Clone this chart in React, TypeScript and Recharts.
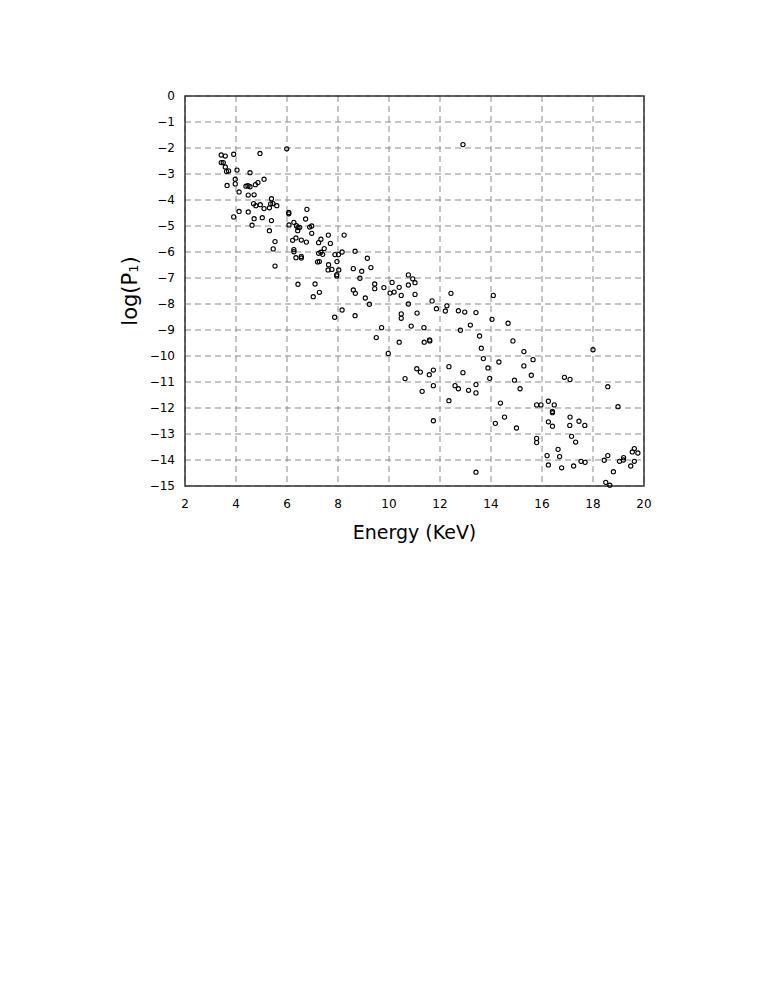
import { CartesianGrid, ReferenceArea, Scatter, ScatterChart, XAxis, YAxis, Label } from "recharts";

// energy in keV
const ENERGY = [
  3.42, 3.58, 3.91, 4.94, 5.99, 3.42, 3.5, 3.58, 3.63, 3.71, 4.04, 4.55, 5.1, 3.97, 3.97, 3.65, 4.86, 4.76,
  4.39, 4.47, 4.55, 4.12, 4.48, 4.71, 5.39, 4.69, 4.78, 4.95, 5.1, 5.31, 5.36, 5.45, 5.6, 6.07, 6.07, 6.78,
  6.73, 4.12, 3.91, 4.48, 4.71, 5.03, 5.39, 4.63, 5.31, 6.08, 6.27, 6.37, 6.43, 6.5, 6.42, 6.89, 6.97, 6.97,
  5.53, 5.46, 5.53, 6.22, 6.35, 6.56, 6.76, 6.27, 6.27, 6.35, 6.56, 6.56, 7.24, 7.24, 7.2,
  7.33, 7.62, 8.24, 7.7, 7.46, 7.33, 7.4, 7.27, 7.63, 7.61, 7.76, 7.88, 8.02, 8.16, 7.96, 8.03, 7.95, 7.95,
  8.67, 8.6, 8.6, 8.68, 8.86, 6.43, 7.1, 7.03, 7.27, 8.16, 7.87, 8.67,
  8.93, 9.15, 9.29, 9.07, 9.23, 9.44, 9.44, 9.8, 10.12, 10.2, 10.04, 10.4, 10.48, 10.76, 10.93, 11.02, 10.76,
  11.02, 10.76, 11.69, 11.86, 12.21, 12.27, 12.43, 12.72, 12.97, 13.41, 14.09, 14.04, 14.67, 13.19, 12.8,
  13.55, 13.62, 13.7, 13.88, 13.95, 14.31, 9.71, 9.5, 10.48, 10.48, 11.1, 10.87, 11.37, 10.4, 11.38, 11.59,
  11.6, 9.97, 11.09, 11.23, 11.58, 11.74, 10.63, 12.35, 12.9,
  11.3, 11.74, 11.74, 12.59, 12.72, 12.35, 13.12, 13.41, 13.41, 13.41, 14.86, 15.29, 15.29, 15.65, 15.58,
  14.92, 15.14, 14.37, 14.17, 14.53, 15.0, 15.79, 15.96, 15.79, 15.79, 16.25, 16.25, 16.2, 16.25,
  16.48, 16.41, 16.41, 16.41, 16.63, 16.69, 16.77, 16.88, 17.1, 17.1, 17.09, 17.45, 17.68, 17.16, 17.32,
  17.24, 17.53, 17.69, 18.0, 18.58, 18.98, 18.44, 18.58, 18.8, 18.5, 18.66, 19.04, 19.19, 19.2, 19.48,
  19.62, 19.54, 19.62, 19.76, 12.9,
];

const LOG_P = [
  -2.27, -2.31, -2.24, -2.21, -2.03, -2.56, -2.56, -2.73, -2.9, -2.88, -2.85, -2.95, -3.2, -3.2, -3.38, -3.44,
  -3.33, -3.41, -3.47, -3.45, -3.49, -3.69, -3.81, -3.8, -3.95, -4.14, -4.22, -4.18, -4.33, -4.3, -4.15,
  -4.14, -4.22, -4.48, -4.53, -4.36, -4.73, -4.44, -4.65, -4.46, -4.72, -4.68, -4.79, -4.97, -5.18, -4.96,
  -4.86, -4.99, -5.06, -5.05, -5.18, -5.04, -5.0, -5.28, -5.6, -5.88, -6.54, -5.55, -5.46, -5.54, -5.62,
  -5.91, -5.99, -6.22, -6.17, -6.23, -5.64, -6.05, -6.38,
  -5.51, -5.35, -5.35, -5.67, -5.87, -6.01, -6.09, -6.37, -6.49, -6.69, -6.67, -6.1, -6.1, -6.0, -6.37,
  -6.69, -6.87, -6.92, -5.97, -6.64, -7.46, -7.59, -7.01, -7.24, -7.23, -7.72, -7.55, -8.23, -8.51, -8.45,
  -6.74, -6.24, -6.6, -7.77, -8.01, -7.23, -7.41, -7.37, -7.17, -7.54, -7.58, -7.36, -7.67, -6.88, -7.03,
  -7.18, -7.27, -7.63, -8.0, -7.88, -8.18, -8.27, -8.07, -7.59, -8.26, -8.31, -8.33, -7.67, -8.59, -8.74,
  -8.81, -9.01, -9.23, -9.7, -10.1, -10.46, -10.86, -10.23, -8.91, -9.29, -8.38, -8.55, -8.35, -8.85, -8.91,
  -9.47, -9.47, -9.38, -9.42, -9.9, -10.49, -10.62, -10.72, -10.54, -10.87, -10.41, -10.64,
  -11.36, -11.14, -12.49, -11.14, -11.26, -11.72, -11.32, -11.1, -11.42, -14.47, -9.42, -9.83, -10.38,
  -10.14, -10.74, -10.93, -11.26, -11.81, -12.59, -12.35, -12.77, -11.88, -11.88, -13.17, -13.33, -11.74,
  -12.53, -13.83, -14.19,
  -11.88, -12.13, -12.18, -12.7, -13.59, -13.87, -14.3, -10.82, -10.9, -12.35, -12.67, -12.51, -12.67,
  -13.09, -13.31, -14.23, -14.05, -14.09, -9.76, -11.18, -11.95, -14.01, -13.83, -14.45, -14.86, -14.97,
  -14.05, -14.0, -13.91, -14.23, -14.05, -13.69, -13.56, -13.73, -1.87,
];

const X_TICKS = [2, 4, 6, 8, 10, 12, 14, 16, 18, 20];
const Y_TICKS = [0, -1, -2, -3, -4, -5, -6, -7, -8, -9, -10, -11, -12, -13, -14, -15];

const points = ENERGY.map((e, i) => ({ energy: e, logp: LOG_P[i] }));

const FONT = "'DejaVu Sans', sans-serif";

const OpenDot = (props: any) => (
  <circle cx={props.cx} cy={props.cy} r={2.1} fill="none" stroke="#000" strokeWidth={1.1} />
);

const YTitle = (props: any) => {
  const vb = props.viewBox;
  const cx = vb.x + 5;
  const cy = vb.y + vb.height / 2;
  return (
    <text
      x={cx}
      y={cy}
      transform={`rotate(-90 ${cx} ${cy})`}
      textAnchor="middle"
      dominantBaseline="central"
      fontFamily={FONT}
      fontSize={21}
      fill="#000"
    >
      log(P
      <tspan fontSize={13} dy={3}>1</tspan>
      <tspan dy={-3}>)</tspan>
    </text>
  );
};

const fmt = (v: number) => (v < 0 ? `\u2212${-v}` : `${v}`);

export default function App() {
  return (
    <div style={{ width: 700, height: 560 }}>
      <ScatterChart width={700} height={560} margin={{ top: 88, right: 64, bottom: 22, left: 117 }}>
        <CartesianGrid stroke="#8a8a8a" strokeDasharray="6 4" strokeWidth={1} />
        <XAxis
          type="number"
          dataKey="energy"
          domain={[2, 20]}
          ticks={X_TICKS}
          height={60}
          axisLine={false}
          tickLine={false}
          tickSize={0}
          tickMargin={13}
          tick={{ fill: "#000", fontSize: 12, fontFamily: FONT }}
        >
          <Label
            value="Energy (KeV)"
            position="insideBottom"
            offset={7}
            style={{ fill: "#000", fontSize: 19, fontFamily: FONT }}
          />
        </XAxis>
        <YAxis
          type="number"
          dataKey="logp"
          domain={[-15, 0]}
          ticks={Y_TICKS}
          width={60}
          axisLine={false}
          tickLine={false}
          tickSize={0}
          tickMargin={10}
          tickFormatter={fmt}
          tick={{ fill: "#000", fontSize: 12, fontFamily: FONT }}
        >
          <Label content={<YTitle />} />
        </YAxis>
        <ReferenceArea x1={2} x2={20} y1={-15} y2={0} fill="none" stroke="#333" strokeWidth={1.5} />
        <Scatter data={points} shape={OpenDot} isAnimationActive={false} />
      </ScatterChart>
    </div>
  );
}
